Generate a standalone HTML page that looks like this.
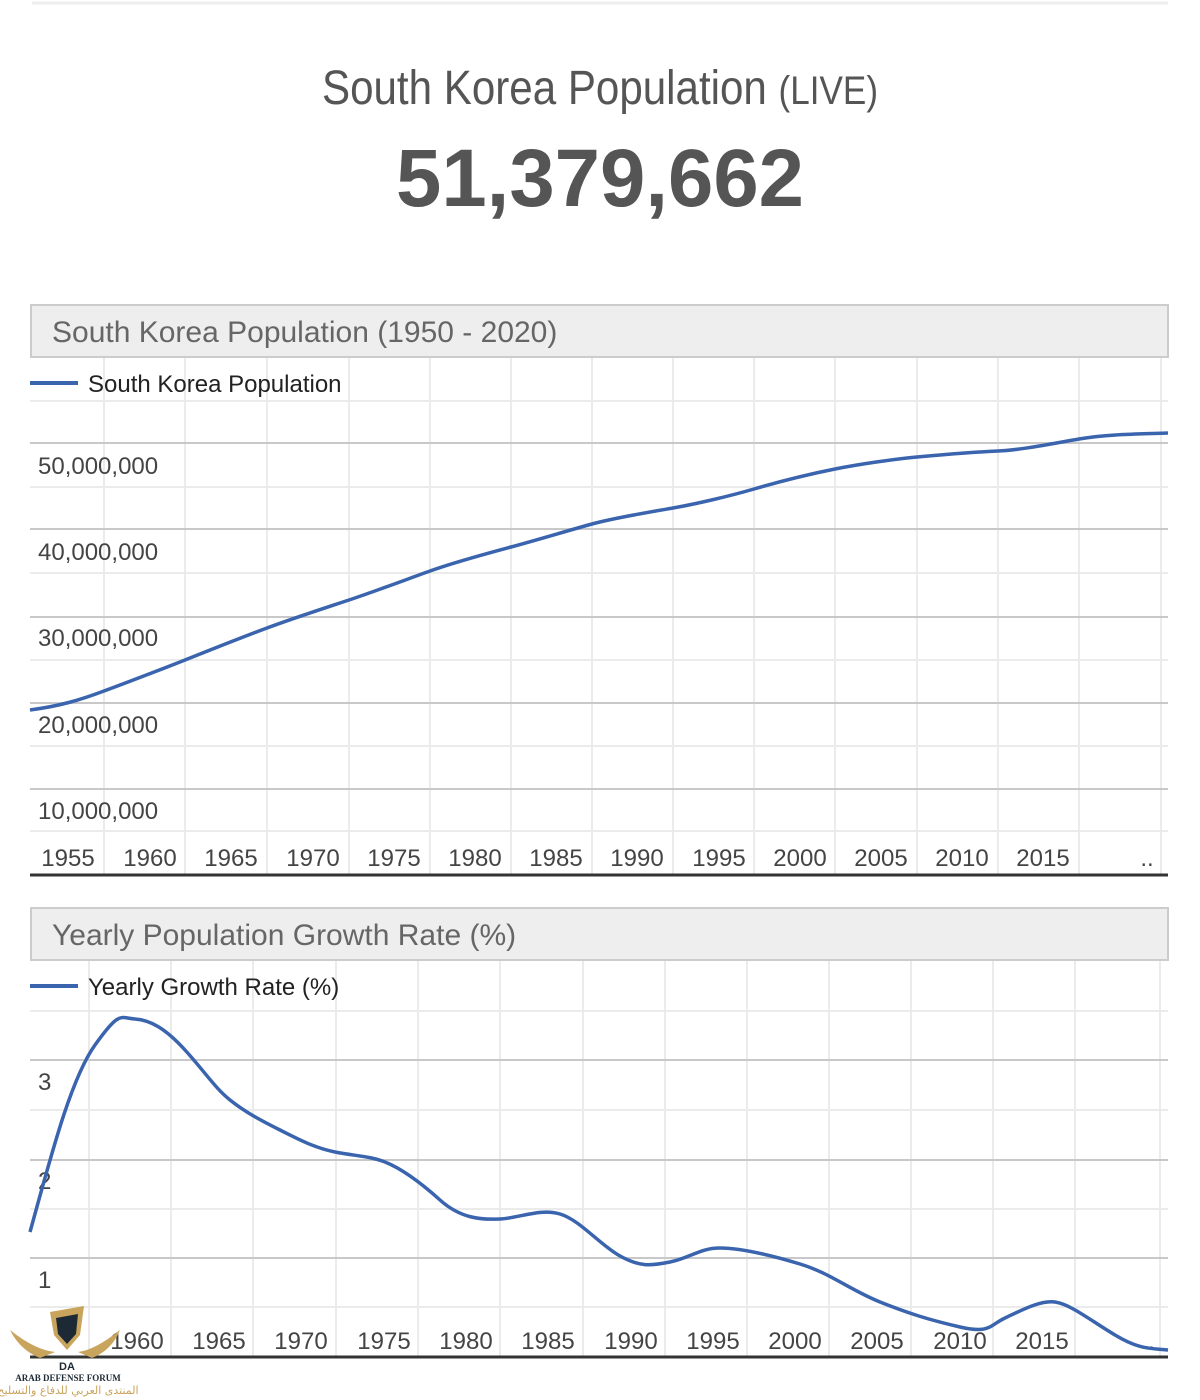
<!DOCTYPE html>
<html><head><meta charset="utf-8"><style>
html,body{margin:0;padding:0;background:#fff;width:1200px;height:1400px;overflow:hidden}
svg{display:block;font-family:"Liberation Sans",sans-serif}
</style></head><body>
<svg width="1200" height="1400" viewBox="0 0 1200 1400">
<line x1="32" y1="3" x2="1168" y2="3" stroke="#eee" stroke-width="3"/>
<text x="600" y="104" text-anchor="middle" font-size="48" fill="#555" textLength="556" lengthAdjust="spacingAndGlyphs">South Korea Population <tspan font-size="40">(LIVE)</tspan></text>
<text x="600" y="206" text-anchor="middle" font-size="82" font-weight="bold" fill="#555" textLength="408" lengthAdjust="spacingAndGlyphs">51,379,662</text>

<!-- top chart grid -->
<g stroke="#ebebeb" stroke-width="2">
<line x1="104" y1="358" x2="104" y2="875"/><line x1="185" y1="358" x2="185" y2="875"/><line x1="267" y1="358" x2="267" y2="875"/><line x1="349" y1="358" x2="349" y2="875"/><line x1="430" y1="358" x2="430" y2="875"/><line x1="511" y1="358" x2="511" y2="875"/><line x1="592" y1="358" x2="592" y2="875"/><line x1="673" y1="358" x2="673" y2="875"/><line x1="754" y1="358" x2="754" y2="875"/><line x1="835" y1="358" x2="835" y2="875"/><line x1="917" y1="358" x2="917" y2="875"/><line x1="998" y1="358" x2="998" y2="875"/><line x1="1079" y1="358" x2="1079" y2="875"/><line x1="1161" y1="358" x2="1161" y2="875"/>
<line x1="30" y1="401" x2="1168" y2="401"/><line x1="30" y1="487" x2="1168" y2="487"/><line x1="30" y1="573" x2="1168" y2="573"/><line x1="30" y1="660" x2="1168" y2="660"/><line x1="30" y1="746" x2="1168" y2="746"/><line x1="30" y1="831" x2="1168" y2="831"/>
</g>
<g stroke="#c8c8c8" stroke-width="2">
<line x1="30" y1="443" x2="1168" y2="443"/><line x1="30" y1="529" x2="1168" y2="529"/><line x1="30" y1="617" x2="1168" y2="617"/><line x1="30" y1="703" x2="1168" y2="703"/><line x1="30" y1="789" x2="1168" y2="789"/>
</g>
<rect x="31" y="305" width="1137" height="52" fill="#eee" stroke="#ccc" stroke-width="2"/>
<text x="52" y="342" font-size="30" fill="#666">South Korea Population (1950 - 2020)</text>
<line x1="30" y1="383" x2="78" y2="383" stroke="#3a64ad" stroke-width="4"/>
<text x="88" y="392" font-size="24" fill="#222">South Korea Population</text>
<g font-size="24" fill="#444">
<text x="38" y="474">50,000,000</text><text x="38" y="560">40,000,000</text><text x="38" y="646">30,000,000</text><text x="38" y="733">20,000,000</text><text x="38" y="819">10,000,000</text>
</g>
<g font-size="24" fill="#444" text-anchor="middle">
<text x="68" y="866">1955</text><text x="150" y="866">1960</text><text x="231" y="866">1965</text><text x="313" y="866">1970</text><text x="394" y="866">1975</text><text x="475" y="866">1980</text><text x="556" y="866">1985</text><text x="637" y="866">1990</text><text x="719" y="866">1995</text><text x="800" y="866">2000</text><text x="881" y="866">2005</text><text x="962" y="866">2010</text><text x="1043" y="866">2015</text><text x="1147" y="866">..</text>
</g>
<line x1="30" y1="875" x2="1168" y2="875" stroke="#333" stroke-width="3"/>
<path d="M30,710 C60,706 80,700 104,691 S160,670 185,660 S240,638 267,628 S325,608 349,600 S405,580 430,571 S485,554 511,547 S570,530 592,524 S650,512 673,508 S730,496 754,489 S810,474 835,469 S895,459 917,457 S975,452 998,451 S1050,444 1079,439 S1140,434 1168,433" fill="none" stroke="#3a64ad" stroke-width="3.5"/>

<!-- bottom chart -->
<g stroke="#ebebeb" stroke-width="2">
<line x1="89" y1="961" x2="89" y2="1357"/><line x1="171" y1="961" x2="171" y2="1357"/><line x1="253" y1="961" x2="253" y2="1357"/><line x1="336" y1="961" x2="336" y2="1357"/><line x1="418" y1="961" x2="418" y2="1357"/><line x1="500" y1="961" x2="500" y2="1357"/><line x1="583" y1="961" x2="583" y2="1357"/><line x1="665" y1="961" x2="665" y2="1357"/><line x1="747" y1="961" x2="747" y2="1357"/><line x1="829" y1="961" x2="829" y2="1357"/><line x1="911" y1="961" x2="911" y2="1357"/><line x1="993" y1="961" x2="993" y2="1357"/><line x1="1075" y1="961" x2="1075" y2="1357"/><line x1="1160" y1="961" x2="1160" y2="1357"/>
<line x1="30" y1="1011" x2="1168" y2="1011"/><line x1="30" y1="1110" x2="1168" y2="1110"/><line x1="30" y1="1209" x2="1168" y2="1209"/><line x1="30" y1="1307" x2="1168" y2="1307"/>
</g>
<g stroke="#c8c8c8" stroke-width="2">
<line x1="30" y1="1060" x2="1168" y2="1060"/><line x1="30" y1="1160" x2="1168" y2="1160"/><line x1="30" y1="1258" x2="1168" y2="1258"/>
</g>
<rect x="31" y="908" width="1137" height="52" fill="#eee" stroke="#ccc" stroke-width="2"/>
<text x="52" y="945" font-size="30" fill="#666">Yearly Population Growth Rate (%)</text>
<line x1="30" y1="986" x2="78" y2="986" stroke="#3a64ad" stroke-width="4"/>
<text x="88" y="995" font-size="24" fill="#222">Yearly Growth Rate (%)</text>
<g font-size="24" fill="#444">
<text x="38" y="1090">3</text><text x="38" y="1189">2</text><text x="38" y="1288">1</text>
</g>
<g font-size="24" fill="#444" text-anchor="middle">
<text x="137" y="1349">1960</text><text x="219" y="1349">1965</text><text x="301" y="1349">1970</text><text x="384" y="1349">1975</text><text x="466" y="1349">1980</text><text x="548" y="1349">1985</text><text x="631" y="1349">1990</text><text x="713" y="1349">1995</text><text x="795" y="1349">2000</text><text x="877" y="1349">2005</text><text x="960" y="1349">2010</text><text x="1042" y="1349">2015</text><text x="1148" y="1349">..</text>
</g>
<line x1="30" y1="1357" x2="1168" y2="1357" stroke="#333" stroke-width="3"/>
<path d="M30,1232 C50,1160 70,1080 95,1045 S120,1018 135,1019 S165,1028 185,1050 S215,1088 230,1100 S260,1120 280,1130 S315,1148 335,1152 S370,1156 385,1162 S420,1182 440,1200 S480,1220 500,1219 S540,1208 560,1214 S600,1245 620,1256 S650,1266 670,1262 S700,1248 720,1248 S770,1255 800,1264 S850,1290 880,1302 S930,1320 960,1327 S990,1325 1005,1318 S1040,1300 1055,1302 S1090,1320 1115,1335 S1150,1348 1168,1350" fill="none" stroke="#3a64ad" stroke-width="3.5"/>

<!-- watermark -->
<g>
<path d="M50,1312 L84,1306 L80,1335 L67,1350 L54,1335 Z" fill="#c9a45c"/>
<path d="M56,1318 L78,1314 L76,1334 L67,1344 L58,1334 Z" fill="#1d2a35"/>
<path d="M10,1330 Q35,1350 55,1352 L40,1358 Q20,1350 10,1330Z" fill="#c9a45c"/>
<path d="M120,1330 Q95,1350 78,1352 L92,1358 Q112,1350 120,1330Z" fill="#c9a45c"/>
<text x="67" y="1370" text-anchor="middle" font-size="11" font-weight="bold" fill="#1d2a35">DA</text>
<text x="68" y="1381" text-anchor="middle" font-size="9" font-weight="bold" fill="#1d2a35" font-family="Liberation Serif,serif">ARAB DEFENSE FORUM</text>
<text x="68" y="1394" text-anchor="middle" font-size="11" fill="#c9a45c" font-family="DejaVu Sans,sans-serif">المنتدى العربي للدفاع والتسليح</text>
</g>
</svg>
</body></html>
